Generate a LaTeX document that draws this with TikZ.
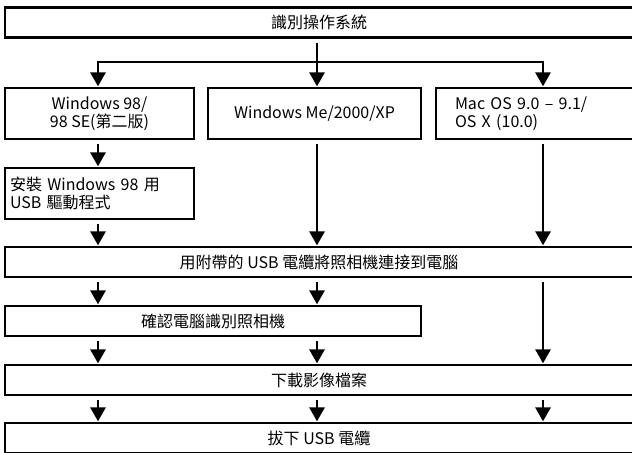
\documentclass[tikz,border=0pt]{standalone}
\usepackage{fontspec}
\setmainfont{Noto Sans CJK TC}
\usetikzlibrary{arrows.meta}
\begin{document}
\begin{tikzpicture}[x=0.75pt,y=-0.75pt,font=\fontsize{12pt}{13.5pt}\selectfont]
\tikzset{stepbox/.style={draw,line width=1.6pt,inner sep=0pt,minimum height=22.5pt,align=center},
 tallbox/.style={stepbox,minimum height=38.25pt},
 flow/.style={line width=1.6pt,-{Triangle[width=11.5pt,length=10.5pt]},shorten <=3pt,shorten >=0.5pt}}
\useasboundingbox (0,0) rectangle (632,453);
\coordinate (colA) at (98,0);
\coordinate (colB) at (317,0);
\coordinate (colC) at (543,0);
\coordinate (fork) at (317,62);
\node[stepbox,minimum width=471pt] (detect) at (319,22.5) {識別操作系統};
\node[tallbox,minimum width=141.75pt] (win98) at (99.5,113.5) {Windows 98/\\98 SE(第二版)};
\node[tallbox,minimum width=159.75pt] (winme) at (314.5,113.5) {Windows Me/2000/XP};
\node[tallbox,align=left,text width=119.25pt,inner xsep=14.25pt] (mac) at (534.5,113.5) {Mac OS 9.0 – 9.1/\\OS X (10.0)};
\node[tallbox,align=left,text width=134.25pt,inner xsep=3.75pt] (driver) at (99.5,193.5) {安裝 Windows 98 用\\USB 驅動程式};
\node[stepbox,minimum width=471pt] (connect) at (319,262) {用附帶的 USB 電纜將照相機連接到電腦};
\node[stepbox,minimum width=312pt] (confirm) at (213,321) {確認電腦識別照相機};
\node[stepbox,minimum width=471pt] (download) at (319,380) {下載影像檔案};
\node[stepbox,minimum width=471pt] (unplug) at (319,438) {拔下 USB 電纜};
\draw[flow] (detect.south -| colB) -- (winme.north -| colB);
\draw[flow,shorten <=0pt] (fork) -| (win98.north -| colA);
\draw[flow,shorten <=0pt] (fork) -| (mac.north -| colC);
\draw[flow] (win98.south -| colA) -- (driver.north -| colA);
\draw[flow] (driver.south -| colA) -- (connect.north -| colA);
\draw[flow] (winme.south -| colB) -- (connect.north -| colB);
\draw[flow] (mac.south -| colC) -- (connect.north -| colC);
\foreach \c in {colA,colB} {
  \draw[flow] (connect.south -| \c) -- (confirm.north -| \c);
  \draw[flow] (confirm.south -| \c) -- (download.north -| \c);
}
\draw[flow] (connect.south -| colC) -- (download.north -| colC);
\foreach \c in {colA,colB,colC}
  \draw[flow] (download.south -| \c) -- (unplug.north -| \c);
\end{tikzpicture}
\end{document}
